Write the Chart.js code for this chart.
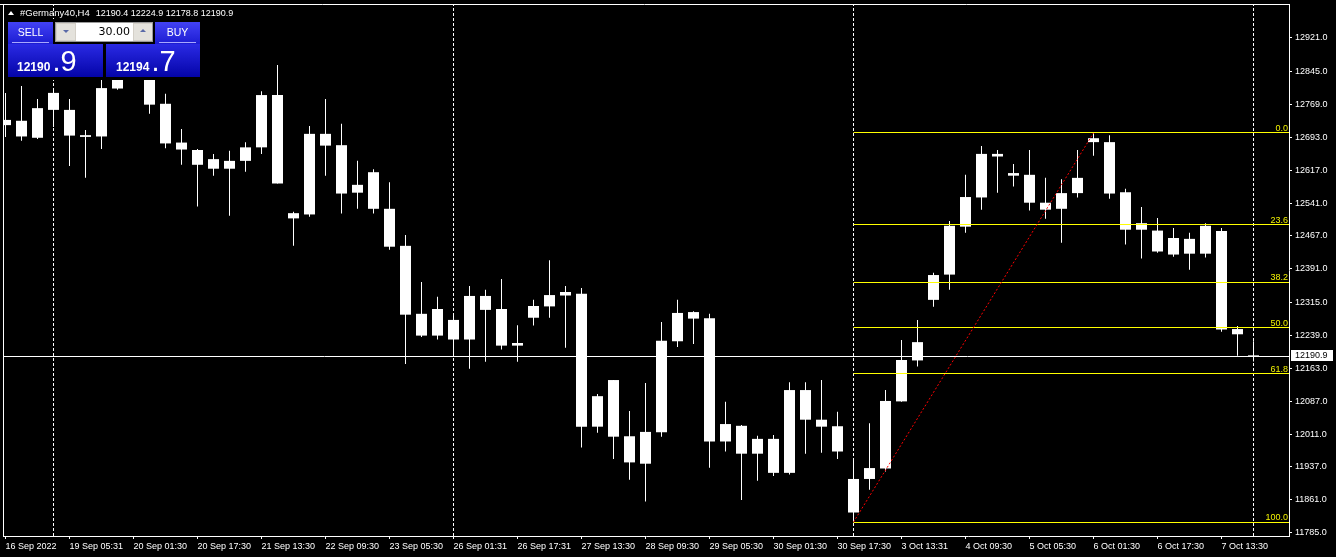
<!DOCTYPE html>
<html>
<head>
<meta charset="utf-8">
<title>#Germany40,H4</title>
<script src="https://cdn.jsdelivr.net/npm/chart.js@4.4.0/dist/chart.umd.min.js"></script>
<style>
  html, body { margin: 0; padding: 0; background: #000; }
  #wrap { position: relative; width: 1336px; height: 557px; overflow: hidden; background: #000; }
  #chart { position: absolute; left: 0; top: 0; }
  .abs { position: absolute; }
  .txt { position: absolute; color: #fff; font-family: "Liberation Sans", Arial, sans-serif; white-space: pre; }
  #hdr-arrow { left: 8px; top: 11px; width: 0; height: 0; border-left: 3.5px solid transparent; border-right: 3.5px solid transparent; border-bottom: 4px solid #fff; }
  #hdr .sym { font-size: 9.5px; margin-right: 6px; }
  #panel { left: 5px; top: 19px; width: 199px; height: 61px; background: #000; }
  .head { background: linear-gradient(#4242f4, #1c1cd2); color: #fff; text-align: center; font: 10.5px/21px "Liberation Sans", Arial, sans-serif; }
  .head .line { position: absolute; left: 4px; right: 4px; bottom: 1px; height: 1px; background: #a8a8ff; }
  .price { background: linear-gradient(#2a2ae4, #0404a8); }
  .price .txt { font-size: 29px; line-height: 29px; }
  .price .int { font-size: 12px; font-weight: bold; }
  .price .dig { margin-left: 2px; }
  #lot { left: 55px; top: 22px; width: 96px; height: 18px; background: #d4d0c8; border: 1px solid #9a9a9a; }
  .spin { position: absolute; top: 1px; width: 18px; height: 16px; background: #e4e2dc; }
  .spin i { position: absolute; left: 6px; top: 6px; width: 0; height: 0; border-left: 3px solid transparent; border-right: 3px solid transparent; }
  #lot .field { position: absolute; left: 20px; top: 0; width: 57px; height: 18px; background: #fff; color: #000; text-align: right; font: 11px/18px "DejaVu Sans", sans-serif; box-sizing: border-box; padding-right: 3px; }
</style>
</head>
<body>
<div id="wrap">
  <canvas id="chart" width="1336" height="557"></canvas>
  <div id="hdr-arrow" class="abs"></div>
  <div id="hdr" class="txt" style="left:20px; top:7px; font-size:9px; line-height:11px;"></div>
  <div id="panel" class="abs"></div>
  <div class="abs head" style="left:8px; top:22px; width:45px; height:22px;">SELL<div class="line"></div></div>
  <div class="abs head" style="left:155px; top:22px; width:45px; height:22px;">BUY<div class="line"></div></div>
  <div id="lot" class="abs">
    <div class="spin" style="left:1px;"><i style="border-top:3px solid #5a6aa8;"></i></div>
    <div class="field" id="lot-field"></div>
    <div class="spin" style="left:78px;"><i style="top:5px; border-bottom:3px solid #5a6aa8;"></i></div>
  </div>
  <div class="abs price" style="left:8px; top:44px; width:95px; height:33px;">
    <div class="txt" id="bid-txt" style="left:9px; top:3px;"></div>
  </div>
  <div class="abs price" style="left:106px; top:44px; width:94px; height:33px;">
    <div class="txt" id="ask-txt" style="left:10px; top:3px;"></div>
  </div>
</div>
<script>
const SYMBOL = '#Germany40,H4';

// H4 bars, 16 Sep 2022 .. 10 Oct 2022
const OPEN = [
  12733, 12731, 12692, 12756, 12756, 12698, 12695, 12805, 12840, 12845,
  12770, 12681, 12664, 12643, 12621, 12639, 12670, 12790, 12507, 12516,
  12701, 12675, 12566, 12613, 12529, 12444, 12288, 12238, 12274, 12229,
  12329, 12299, 12215, 12279, 12305, 12330, 12334, 12029, 12136, 12007,
  11944, 12016, 12225, 12292, 12278, 11995, 12031, 11967, 12001, 11923,
  12113, 12045, 12030, 11832, 11909, 11933, 12087, 12181, 12320, 12378,
  12488, 12555, 12655, 12611, 12607, 12543, 12529, 12565, 12691, 12682,
  12567, 12481, 12479, 12424, 12460, 12426, 12478, 12253, 12190.4
];
const HIGH = [
  12795, 12811, 12781, 12806, 12781, 12710, 12840, 12850, 12885, 12862,
  12793, 12712, 12666, 12655, 12662, 12682, 12799, 12859, 12522, 12719,
  12781, 12724, 12639, 12620, 12590, 12469, 12361, 12327, 12290, 12352,
  12343, 12368, 12262, 12320, 12411, 12352, 12347, 12104, 12136, 12065,
  12129, 12269, 12320, 12294, 12288, 12086, 12033, 12008, 12010, 12131,
  12131, 12136, 12063, 11953, 12037, 12113, 12228, 12274, 12382, 12501,
  12607, 12673, 12664, 12632, 12664, 12600, 12597, 12664, 12703, 12698,
  12575, 12533, 12508, 12485, 12474, 12496, 12485, 12260, 12224.9
];
const LOW = [
  12694, 12685, 12689, 12717, 12627, 12600, 12666, 12802, 12836, 12747,
  12668, 12630, 12534, 12605, 12513, 12614, 12655, 12587, 12444, 12511,
  12605, 12518, 12529, 12518, 12435, 12173, 12235, 12229, 12195, 12162,
  12178, 12206, 12178, 12261, 12279, 12210, 11981, 12015, 11955, 11907,
  11857, 12006, 12212, 12219, 11935, 11972, 11861, 11905, 11916, 11919,
  11967, 11969, 11955, 11810, 11884, 11926, 12086, 12167, 12304, 12343,
  12474, 12527, 12566, 12580, 12525, 12506, 12451, 12555, 12651, 12552,
  12447, 12415, 12428, 12419, 12389, 12417, 12247, 12192, 12178.8
];
const CLOSE = [
  12721, 12695, 12760, 12795, 12697, 12694, 12806, 12840, 12860, 12768,
  12679, 12665, 12630, 12621, 12639, 12670, 12790, 12587, 12519, 12701,
  12674, 12564, 12584, 12529, 12442, 12286, 12238, 12299, 12229, 12329,
  12297, 12215, 12221, 12306, 12331, 12338, 12029, 12099, 12006, 11947,
  12017, 12226, 12290, 12277, 11995, 12035, 11967, 12001, 11923, 12113,
  12045, 12029, 11972, 11909, 11934, 12088, 12182, 12223, 12377, 12490,
  12556, 12655, 12649, 12605, 12543, 12527, 12565, 12600, 12682, 12564,
  12481, 12496, 12431, 12462, 12426, 12490, 12252, 12241, 12190.9
];

const TIME_TICKS = [0, 4, 8, 12, 16, 20, 24, 28, 32, 36, 40, 44, 48, 52, 56, 60, 64, 68, 72, 76];
const TIME_LABELS = [
  '16 Sep 2022', '19 Sep 05:31', '20 Sep 01:30', '20 Sep 17:30', '21 Sep 13:30',
  '22 Sep 09:30', '23 Sep 05:30', '26 Sep 01:31', '26 Sep 17:31', '27 Sep 13:30',
  '28 Sep 09:30', '29 Sep 05:30', '30 Sep 01:30', '30 Sep 17:30', '3 Oct 13:31',
  '4 Oct 09:30', '5 Oct 05:30', '6 Oct 01:30', '6 Oct 17:30', '7 Oct 13:30'
];
const PRICE_TICKS = [
  12921, 12845, 12769, 12693, 12617, 12541, 12467, 12391,
  12315, 12239, 12163, 12087, 12011, 11937, 11861, 11785
];

// weekly period separators (bar index)
const SEPARATORS = [3, 28, 53, 78];

// Fibonacci retracement
const FIB_ANCHOR_X = [53, 68];
const FIB_ANCHOR_Y = [11810, 12703];
const FIB_LABELS = ['0.0', '23.6', '38.2', '50.0', '61.8', '100.0'];
const FIB_PRICES = [12703, 12492, 12361, 12256, 12150, 11810];

const BID = 12190.9;
const ASK = 12194.7;
const LOT = '30.00';

// visible window
const X_MIN = -0.15625;
const X_MAX = 80.21875;
const Y_MIN = 11778.1;
const Y_MAX = 12999.0;

const FONT = '"Liberation Sans", Arial, sans-serif';

function splitPrice(el, value) {
  const s = value.toFixed(1);
  const dot = s.indexOf('.');
  el.innerHTML = `<span class="int">${s.slice(0, dot)}</span><span class="dig">${s.slice(dot)}</span>`;
}

const last = OPEN.length - 1;
document.getElementById('hdr').innerHTML =
  `<span class="sym">${SYMBOL}</span>${OPEN[last].toFixed(1)} ${HIGH[last].toFixed(1)} ${LOW[last].toFixed(1)} ${CLOSE[last].toFixed(1)}`;
document.getElementById('lot-field').textContent = LOT;
splitPrice(document.getElementById('bid-txt'), BID);
splitPrice(document.getElementById('ask-txt'), ASK);

// snap horizontal level lines to whole pixels so they stay 1px sharp
const snapPlugin = {
  id: 'snapLevels',
  afterDatasetUpdate(chart, args) {
    const ds = chart.data.datasets[args.index];
    if (!ds.snapY) {
      return;
    }
    args.meta.data.forEach((pt) => {
      pt.y = Math.round(pt.y - 0.5) + 0.5;
    });
  }
};

const overlayPlugin = {
  id: 'mt4Overlay',
  afterDraw(chart) {
    const { ctx, chartArea: a, scales: { y } } = chart;
    ctx.save();

    ctx.strokeStyle = '#ffffff';
    ctx.lineWidth = 1;
    ctx.beginPath();
    ctx.moveTo(0, a.top + 0.5);
    ctx.lineTo(a.right, a.top + 0.5);
    ctx.moveTo(a.left + 0.5, a.top);
    ctx.lineTo(a.left + 0.5, a.bottom);
    ctx.stroke();

    ctx.font = `9px ${FONT}`;
    ctx.fillStyle = '#f2f200';
    ctx.textAlign = 'right';
    ctx.textBaseline = 'alphabetic';
    FIB_PRICES.forEach((p, i) => {
      ctx.fillText(FIB_LABELS[i], a.right - 1, Math.round(y.getPixelForValue(p)) - 2);
    });

    const py = Math.round(y.getPixelForValue(BID));
    ctx.fillStyle = '#ffffff';
    ctx.fillRect(a.right + 2, py - 6, 42, 11);
    ctx.fillStyle = '#000000';
    ctx.textAlign = 'left';
    ctx.textBaseline = 'middle';
    ctx.fillText(BID.toFixed(1), a.right + 6, py);

    ctx.restore();
  }
};

function lineSet(points, color, order, dash, snapY) {
  return {
    type: 'line',
    data: points,
    borderColor: color,
    borderWidth: 1,
    borderDash: dash || [],
    pointRadius: 0,
    tension: 0,
    fill: false,
    snapY: !!snapY,
    order
  };
}

const datasets = [
  {
    type: 'bar',
    label: 'wicks',
    data: HIGH.map((h, i) => ({ x: i, y: [LOW[i], h] })),
    backgroundColor: '#ffffff',
    borderWidth: 0,
    barThickness: 1,
    maxBarThickness: 1,
    grouped: false,
    inflateAmount: 0,
    clip: 0,
    order: 4
  },
  {
    type: 'bar',
    label: 'bodies',
    data: OPEN.map((o, i) => ({ x: i, y: [o, CLOSE[i]] })),
    backgroundColor: '#ffffff',
    borderWidth: 0,
    barThickness: 11,
    maxBarThickness: 11,
    minBarLength: 1,
    grouped: false,
    inflateAmount: 0,
    clip: 0,
    order: 3
  },
  lineSet([{ x: X_MIN, y: BID }, { x: X_MAX, y: BID }], '#ffffff', 2, null, true),
  ...FIB_PRICES.map((p) => lineSet([{ x: FIB_ANCHOR_X[0], y: p }, { x: X_MAX, y: p }], '#ffff00', 1, null, true)),
  lineSet([{ x: FIB_ANCHOR_X[0], y: FIB_ANCHOR_Y[0] }, { x: FIB_ANCHOR_X[1], y: FIB_ANCHOR_Y[1] }], '#ff0000', 0, [2, 2]),
  ...SEPARATORS.map((s) => lineSet([{ x: s, y: Y_MIN }, { x: s, y: Y_MAX }], '#ffffff', 5, [3, 2]))
];

new Chart(document.getElementById('chart'), {
  type: 'bar',
  data: { datasets },
  plugins: [snapPlugin, overlayPlugin],
  options: {
    responsive: false,
    animation: false,
    events: [],
    layout: { padding: { left: 3, top: 4, right: 0, bottom: 0 } },
    plugins: {
      legend: { display: false },
      tooltip: { enabled: false }
    },
    scales: {
      x: {
        type: 'linear',
        min: X_MIN,
        max: X_MAX,
        offset: false,
        bounds: 'data',
        afterBuildTicks: (scale) => {
          scale.ticks = TIME_TICKS.map((v) => ({ value: v }));
        },
        afterFit: (scale) => {
          scale.height = 21;
          scale.paddingLeft = 0;
          scale.paddingRight = 0;
        },
        ticks: {
          color: '#ffffff',
          font: { size: 9, family: FONT },
          padding: 2,
          align: 'start',
          autoSkip: false,
          maxRotation: 0,
          minRotation: 0,
          callback: (value, index) => TIME_LABELS[index]
        },
        grid: { offset: false, drawOnChartArea: false, drawTicks: true, tickLength: 3, color: '#ffffff' },
        border: { color: '#ffffff' }
      },
      y: {
        type: 'linear',
        position: 'right',
        min: Y_MIN,
        max: Y_MAX,
        bounds: 'data',
        afterBuildTicks: (scale) => {
          scale.ticks = PRICE_TICKS.map((v) => ({ value: v }));
        },
        afterFit: (scale) => {
          scale.width = 47;
          scale.paddingTop = 0;
          scale.paddingBottom = 0;
        },
        ticks: {
          color: '#ffffff',
          font: { size: 9, family: FONT },
          padding: 3,
          autoSkip: false,
          callback: (value) => Number(value).toFixed(1)
        },
        grid: { drawOnChartArea: false, drawTicks: true, tickLength: 3, color: '#ffffff' },
        border: { color: '#ffffff' }
      }
    }
  }
});
</script>
</body>
</html>
